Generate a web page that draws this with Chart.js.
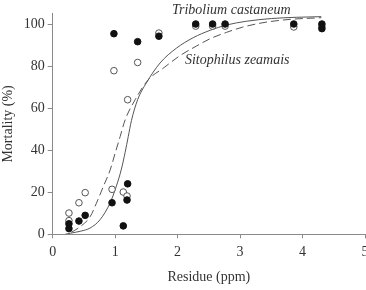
<!DOCTYPE html>
<html>
<head>
<meta charset="utf-8">
<script src="https://cdn.jsdelivr.net/npm/chart.js@4/dist/chart.umd.min.js"></script>
<style>
  html, body { margin: 0; padding: 0; overflow: hidden; background: #fff; width: 366px; height: 290px; }
  #wrap { position: absolute; left: 0; top: 0; width: 400px; height: 290px; }
</style>
</head>
<body>
<div id="wrap"><canvas id="c" width="400" height="290"></canvas></div>
<script>
// ---- data ----
const filledX = [0.26, 0.26, 0.42, 0.52, 0.95, 0.98, 1.13, 1.19, 1.20, 1.36, 1.70, 2.29, 2.56, 2.76, 3.86, 4.31, 4.31];
const filledY = [5, 2.7, 6.3, 9, 15, 95.4, 4, 16.3, 24, 91.6, 94.2, 100, 100, 100, 100, 100, 97.8];

const openX = [0.26, 0.26, 0.42, 0.52, 0.95, 0.98, 1.13, 1.19, 1.20, 1.36, 1.70, 2.29, 2.56, 2.76, 3.86, 4.31];
const openY = [10.1, 6.5, 15, 19.8, 21.4, 77.8, 20.1, 18.2, 64, 81.7, 95.7, 99, 99, 99, 98.6, 98.8];

const triboliumX = [0.2, 0.28, 0.45, 0.6, 0.76, 0.92, 1.02, 1.1, 1.16, 1.21, 1.26, 1.36, 1.5, 1.72, 1.98, 2.25, 2.52, 2.78, 3.1, 3.5, 3.9, 4.3];
const triboliumY = [0, 0.5, 1.5, 3, 7, 15, 23, 31, 39, 46.5, 54, 64, 72, 81.5, 88.5, 93.5, 97, 99.5, 101.3, 102.6, 103.2, 103.5];

const sitophilusX = [0.3, 0.44, 0.6, 0.7, 0.81, 0.92, 1.0, 1.08, 1.16, 1.32, 1.53, 1.77, 2.04, 2.3, 2.52, 2.78, 3.04, 3.4, 3.8, 4.3];
const sitophilusY = [1, 3.6, 8.4, 14.8, 22.7, 30.6, 38.6, 46.5, 54.4, 64, 73.5, 79, 85, 89.5, 93, 96, 98.5, 100.8, 102.2, 103];

const xTicks = [0, 1, 2, 3, 4, 5];
const yTicks = [0, 20, 40, 60, 80, 100];

const curveLabels = ["Tribolium castaneum", "Sitophilus zeamais"];
const labelAnchors = [[1.909, 104.8], [2.117, 81]];

const xTitle = "Residue (ppm)";
const yTitle = "Mortality (%)";

// ---- helpers ----
const pts = (xs, ys) => xs.map((x, i) => ({ x: x, y: ys[i] }));
const FONT = "'Liberation Serif', 'Times New Roman', serif";
const TEXT = '#333';
const AXIS = '#8a8a8a';
const CURVE = '#555';

const textPlugin = {
  id: 'curveText',
  afterDraw(chart) {
    const ctx = chart.ctx;
    const xs = chart.scales.x, ys = chart.scales.y;
    ctx.save();
    ctx.font = "italic 14px " + FONT;
    ctx.fillStyle = TEXT;
    ctx.textAlign = 'left';
    ctx.textBaseline = 'alphabetic';
    curveLabels.forEach((t, i) => {
      ctx.fillText(t, xs.getPixelForValue(labelAnchors[i][0]), ys.getPixelForValue(labelAnchors[i][1]));
    });
    ctx.restore();
  }
};

new Chart(document.getElementById('c'), {
  type: 'scatter',
  data: {
    datasets: [
      {
        label: 'filled',
        data: pts(filledX, filledY),
        pointRadius: 3.3,
        pointBackgroundColor: '#111',
        pointBorderColor: '#111',
        pointBorderWidth: 1,
        showLine: false
      },
      {
        label: 'open',
        data: pts(openX, openY),
        pointRadius: 3.3,
        pointBackgroundColor: '#fff',
        pointBorderColor: '#555',
        pointBorderWidth: 1,
        showLine: false
      },
      {
        label: curveLabels[0],
        data: pts(triboliumX, triboliumY),
        showLine: true,
        pointRadius: 0,
        borderColor: CURVE,
        borderWidth: 1,
        cubicInterpolationMode: 'monotone',
        fill: false
      },
      {
        label: curveLabels[1],
        data: pts(sitophilusX, sitophilusY),
        showLine: true,
        pointRadius: 0,
        borderColor: CURVE,
        borderWidth: 1,
        borderDash: [8, 4],
        cubicInterpolationMode: 'monotone',
        fill: false
      }
    ]
  },
  options: {
    responsive: false,
    animation: false,
    events: [],
    layout: { padding: { left: 0, right: 35, top: 13.5, bottom: 0 } },
    plugins: { legend: { display: false }, tooltip: { enabled: false } },
    scales: {
      x: {
        type: 'linear',
        min: 0, max: 5,
        afterFit(s) { s.height = 55.7; },
        afterBuildTicks(s) { s.ticks = xTicks.map(v => ({ value: v })); },
        grid: { display: true, drawOnChartArea: false, drawTicks: true, tickLength: 4, color: AXIS },
        border: { display: true, color: AXIS, width: 1 },
        ticks: { color: TEXT, font: { family: FONT, size: 14 }, padding: 6, maxRotation: 0, autoSkip: false },
        title: { display: true, text: xTitle, color: TEXT, font: { family: FONT, size: 14 }, padding: { top: 0, bottom: 4.6 } }
      },
      y: {
        type: 'linear',
        min: 0, max: 105,
        afterFit(s) { s.width = 52.7; },
        afterBuildTicks(s) { s.ticks = yTicks.map(v => ({ value: v })); },
        grid: { display: true, drawOnChartArea: false, drawTicks: true, tickLength: 5, color: AXIS },
        border: { display: true, color: AXIS, width: 1 },
        ticks: { color: TEXT, font: { family: FONT, size: 14 }, padding: 3, autoSkip: false },
        title: { display: true, text: yTitle, color: TEXT, font: { family: FONT, size: 14 }, padding: { top: 0, bottom: 0 } }
      }
    }
  },
  plugins: [textPlugin]
});
</script>
</body>
</html>
